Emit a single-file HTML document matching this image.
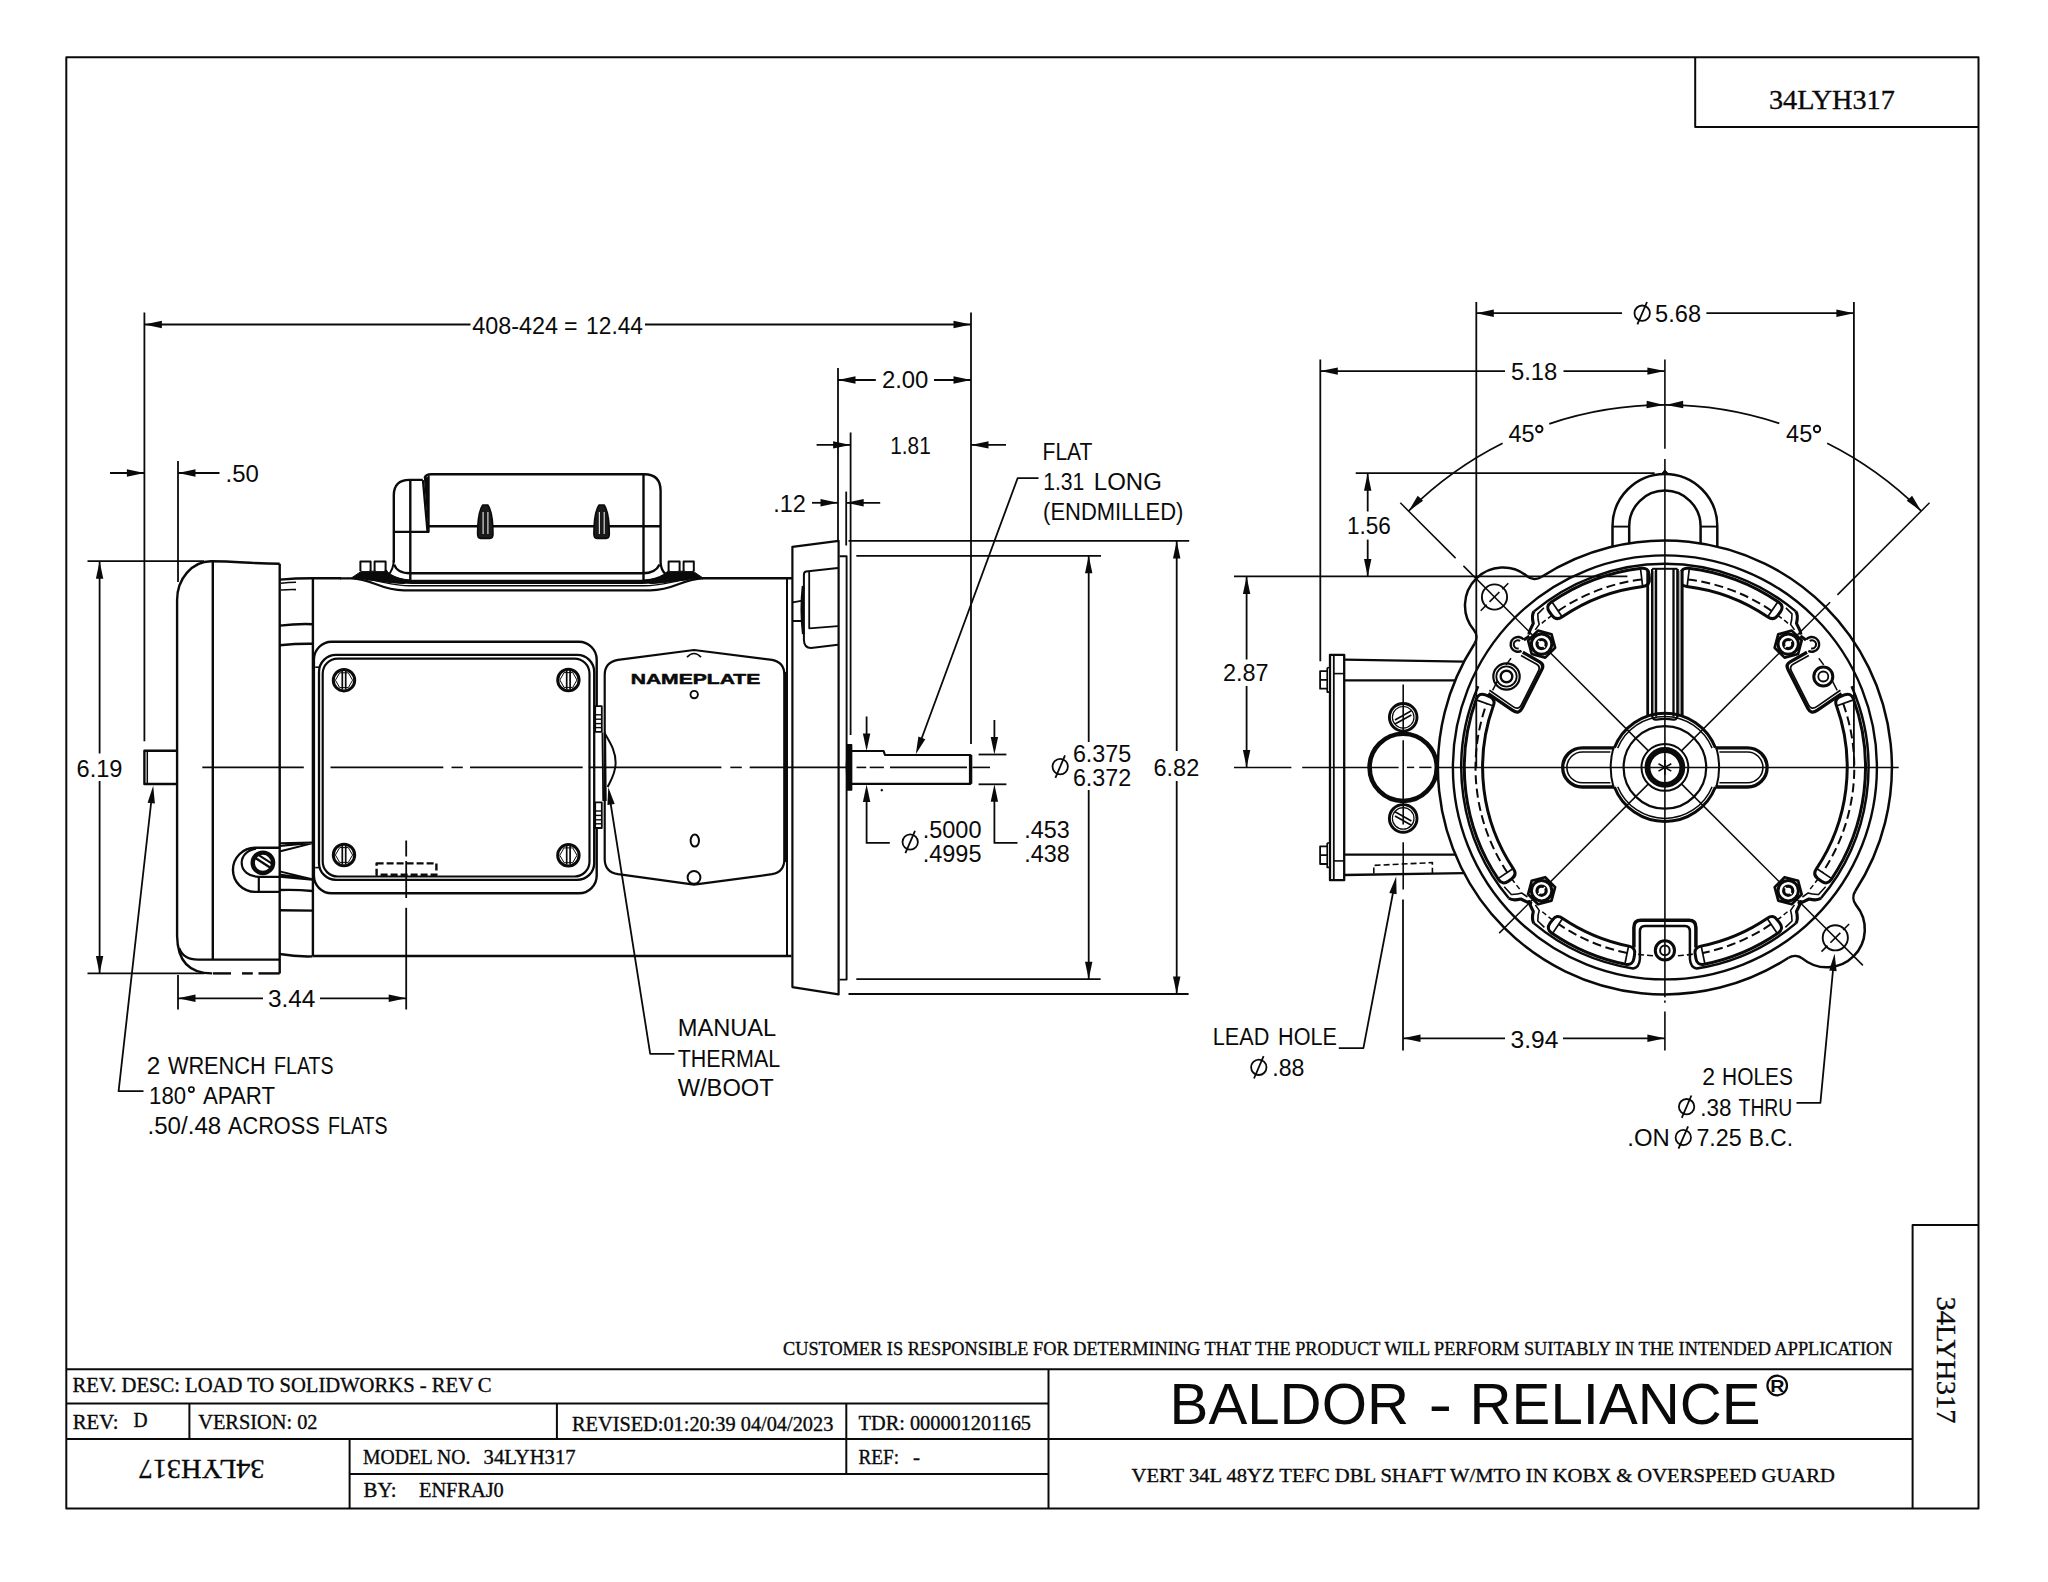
<!DOCTYPE html>
<html><head><meta charset="utf-8"><title>34LYH317</title>
<style>
html,body{margin:0;padding:0;background:#fff;}
svg{display:block;}
svg *{vector-effect:none;}
</style></head>
<body>
<svg width="2048" height="1582" viewBox="0 0 2048 1582" fill="none" stroke="#0a0a0a" stroke-linecap="butt" stroke-linejoin="round">
<rect x="0" y="0" width="2048" height="1582" fill="#ffffff" stroke="none"/>
<path d="M66.3 57.3 H1978.5 V1508.6 H66.3 Z" stroke-width="2"/>
<path d="M1695.2 57.3 V126.9 H1978.5" stroke-width="2"/>
<path d="M1912.6 1508.6 V1225.1 H1978.5" stroke-width="2"/>
<line x1="66.3" y1="1369.3" x2="1912.6" y2="1369.3" stroke-width="2"/>
<line x1="66.3" y1="1403.4" x2="1048.5" y2="1403.4" stroke-width="2"/>
<line x1="66.3" y1="1439" x2="1912.6" y2="1439" stroke-width="2"/>
<line x1="349.6" y1="1474.1" x2="1048.5" y2="1474.1" stroke-width="2"/>
<line x1="1048.5" y1="1369.3" x2="1048.5" y2="1508.6" stroke-width="2"/>
<line x1="189.4" y1="1403.4" x2="189.4" y2="1439" stroke-width="2"/>
<line x1="556.9" y1="1403.4" x2="556.9" y2="1439" stroke-width="2"/>
<line x1="846.3" y1="1403.4" x2="846.3" y2="1474.1" stroke-width="2"/>
<line x1="349.6" y1="1439" x2="349.6" y2="1508.6" stroke-width="2"/>
<text x="1769" y="109.1" font-family="'Liberation Serif', serif" font-size="27.6" textLength="125.8" lengthAdjust="spacingAndGlyphs" fill="#0a0a0a" stroke="#0a0a0a" stroke-width="0.35" xml:space="preserve">34LYH317</text>
<text x="72.6" y="1392.2" font-family="'Liberation Serif', serif" font-size="20.2" textLength="419" lengthAdjust="spacingAndGlyphs" fill="#0a0a0a" stroke="#0a0a0a" stroke-width="0.35" xml:space="preserve">REV. DESC: LOAD TO SOLIDWORKS - REV C</text>
<text x="72.8" y="1428.8" font-family="'Liberation Serif', serif" font-size="20.2" textLength="45.7" lengthAdjust="spacingAndGlyphs" fill="#0a0a0a" stroke="#0a0a0a" stroke-width="0.35" xml:space="preserve">REV:</text>
<text x="133.5" y="1427.2" font-family="'Liberation Serif', serif" font-size="20.2" textLength="14.1" lengthAdjust="spacingAndGlyphs" fill="#0a0a0a" stroke="#0a0a0a" stroke-width="0.35" xml:space="preserve">D</text>
<text x="198.2" y="1428.8" font-family="'Liberation Serif', serif" font-size="20.2" textLength="119.3" lengthAdjust="spacingAndGlyphs" fill="#0a0a0a" stroke="#0a0a0a" stroke-width="0.35" xml:space="preserve">VERSION: 02</text>
<text x="572" y="1431.2" font-family="'Liberation Serif', serif" font-size="20.2" textLength="261.3" lengthAdjust="spacingAndGlyphs" fill="#0a0a0a" stroke="#0a0a0a" stroke-width="0.35" xml:space="preserve">REVISED:01:20:39 04/04/2023</text>
<text x="858.6" y="1430.4" font-family="'Liberation Serif', serif" font-size="20.2" textLength="172.4" lengthAdjust="spacingAndGlyphs" fill="#0a0a0a" stroke="#0a0a0a" stroke-width="0.35" xml:space="preserve">TDR: 000001201165</text>
<text x="363" y="1464.4" font-family="'Liberation Serif', serif" font-size="20.2" textLength="107.3" lengthAdjust="spacingAndGlyphs" fill="#0a0a0a" stroke="#0a0a0a" stroke-width="0.35" xml:space="preserve">MODEL NO.</text>
<text x="483.6" y="1464.4" font-family="'Liberation Serif', serif" font-size="20.2" textLength="92" lengthAdjust="spacingAndGlyphs" fill="#0a0a0a" stroke="#0a0a0a" stroke-width="0.35" xml:space="preserve">34LYH317</text>
<text x="858.6" y="1463.6" font-family="'Liberation Serif', serif" font-size="20.2" textLength="40.4" lengthAdjust="spacingAndGlyphs" fill="#0a0a0a" stroke="#0a0a0a" stroke-width="0.35" xml:space="preserve">REF:</text>
<text x="913" y="1463.6" font-family="'Liberation Serif', serif" font-size="20.2" textLength="7" lengthAdjust="spacingAndGlyphs" fill="#0a0a0a" stroke="#0a0a0a" stroke-width="0.35" xml:space="preserve">-</text>
<text x="363.6" y="1496.6" font-family="'Liberation Serif', serif" font-size="20.2" textLength="32.9" lengthAdjust="spacingAndGlyphs" fill="#0a0a0a" stroke="#0a0a0a" stroke-width="0.35" xml:space="preserve">BY:</text>
<text x="419" y="1496.6" font-family="'Liberation Serif', serif" font-size="20.2" textLength="84.8" lengthAdjust="spacingAndGlyphs" fill="#0a0a0a" stroke="#0a0a0a" stroke-width="0.35" xml:space="preserve">ENFRAJ0</text>
<g transform="rotate(180 201.6 1470.1)">
<text x="138.6" y="1479.9" font-family="'Liberation Serif', serif" font-size="27.6" textLength="126" lengthAdjust="spacingAndGlyphs" fill="#0a0a0a" stroke="#0a0a0a" stroke-width="0.35" xml:space="preserve">34LYH317</text>
</g>
<g transform="translate(1936.6 1296.4) rotate(90)">
<text x="0" y="0" font-family="'Liberation Serif', serif" font-size="27.6" textLength="127" lengthAdjust="spacingAndGlyphs" fill="#0a0a0a" stroke="#0a0a0a" stroke-width="0.35" xml:space="preserve">34LYH317</text>
</g>
<text x="783" y="1355.2" font-family="'Liberation Serif', serif" font-size="19.4" textLength="1109.4" lengthAdjust="spacingAndGlyphs" fill="#0a0a0a" stroke="#0a0a0a" stroke-width="0.35" xml:space="preserve">CUSTOMER IS RESPONSIBLE FOR DETERMINING THAT THE PRODUCT WILL PERFORM SUITABLY IN THE INTENDED APPLICATION</text>
<text x="1169.6" y="1423.8" font-family="'Liberation Sans', sans-serif" font-size="57.5" textLength="239.4" lengthAdjust="spacingAndGlyphs" fill="#0a0a0a" stroke="none" xml:space="preserve">BALDOR</text>
<text x="1428.4" y="1423.8" font-family="'Liberation Sans', sans-serif" font-size="57.5" textLength="23.6" lengthAdjust="spacingAndGlyphs" fill="#0a0a0a" stroke="none" xml:space="preserve">-</text>
<text x="1469.6" y="1423.8" font-family="'Liberation Sans', sans-serif" font-size="57.5" textLength="291" lengthAdjust="spacingAndGlyphs" fill="#0a0a0a" stroke="none" xml:space="preserve">RELIANCE</text>
<circle cx="1777.2" cy="1385.5" r="9.8" stroke-width="2.2"/>
<text x="1770.3" y="1391.6" font-family="'Liberation Sans', sans-serif" font-size="16.5" textLength="14.2" lengthAdjust="spacingAndGlyphs" font-weight="bold" fill="#0a0a0a" stroke="none" xml:space="preserve">R</text>
<text x="1131.6" y="1481.6" font-family="'Liberation Serif', serif" font-size="19.4" textLength="703.2" lengthAdjust="spacingAndGlyphs" fill="#0a0a0a" stroke="#0a0a0a" stroke-width="0.35" xml:space="preserve">VERT 34L 48YZ TEFC DBL SHAFT W/MTO IN KOBX &amp; OVERSPEED GUARD</text>
<g id="leftview">
<line x1="144.4" y1="312.4" x2="144.4" y2="741.2" stroke-width="1.8"/>
<line x1="971" y1="312.4" x2="971" y2="744" stroke-width="1.8"/>
<line x1="144.4" y1="324.5" x2="470.5" y2="324.5" stroke-width="1.8"/>
<line x1="645" y1="324.5" x2="971" y2="324.5" stroke-width="1.8"/>
<polygon points="144.4,324.5 161.9,320.8 161.9,328.2" fill="#0a0a0a" stroke="none"/>
<polygon points="971,324.5 953.5,328.2 953.5,320.8" fill="#0a0a0a" stroke="none"/>
<text x="472.3" y="333.6" font-family="'Liberation Sans', sans-serif" font-size="23" textLength="85.8" lengthAdjust="spacingAndGlyphs" fill="#0a0a0a" stroke="none" xml:space="preserve">408-424</text>
<text x="564.1" y="333.6" font-family="'Liberation Sans', sans-serif" font-size="23" textLength="13.5" lengthAdjust="spacingAndGlyphs" fill="#0a0a0a" stroke="none" xml:space="preserve">=</text>
<text x="586.1" y="333.6" font-family="'Liberation Sans', sans-serif" font-size="23" textLength="56.9" lengthAdjust="spacingAndGlyphs" fill="#0a0a0a" stroke="none" xml:space="preserve">12.44</text>
<line x1="178" y1="461" x2="178" y2="582" stroke-width="1.8"/>
<line x1="110" y1="473" x2="144.4" y2="473" stroke-width="1.8"/>
<line x1="178" y1="473" x2="219.5" y2="473" stroke-width="1.8"/>
<polygon points="144.4,473 126.9,476.7 126.9,469.3" fill="#0a0a0a" stroke="none"/>
<polygon points="178,473 195.5,469.3 195.5,476.7" fill="#0a0a0a" stroke="none"/>
<text x="225.6" y="482.2" font-family="'Liberation Sans', sans-serif" font-size="23" textLength="33.3" lengthAdjust="spacingAndGlyphs" fill="#0a0a0a" stroke="none" xml:space="preserve">.50</text>
<line x1="87.5" y1="561.2" x2="204" y2="561.2" stroke-width="1.8"/>
<line x1="87.5" y1="973.4" x2="204" y2="973.4" stroke-width="1.8"/>
<line x1="99.6" y1="561.2" x2="99.6" y2="753.5" stroke-width="1.8"/>
<line x1="99.6" y1="781" x2="99.6" y2="973.4" stroke-width="1.8"/>
<polygon points="99.6,561.2 103.3,578.7 95.9,578.7" fill="#0a0a0a" stroke="none"/>
<polygon points="99.6,973.4 95.9,955.9 103.3,955.9" fill="#0a0a0a" stroke="none"/>
<text x="76.5" y="777.2" font-family="'Liberation Sans', sans-serif" font-size="23" textLength="46" lengthAdjust="spacingAndGlyphs" fill="#0a0a0a" stroke="none" xml:space="preserve">6.19</text>
<line x1="178" y1="975" x2="178" y2="1009.5" stroke-width="1.8"/>
<line x1="178" y1="998.3" x2="263" y2="998.3" stroke-width="1.8"/>
<line x1="320" y1="998.3" x2="406.2" y2="998.3" stroke-width="1.8"/>
<polygon points="178,998.3 195.5,994.6 195.5,1002" fill="#0a0a0a" stroke="none"/>
<polygon points="406.2,998.3 388.7,1002 388.7,994.6" fill="#0a0a0a" stroke="none"/>
<text x="267.9" y="1006.8" font-family="'Liberation Sans', sans-serif" font-size="23" textLength="47.5" lengthAdjust="spacingAndGlyphs" fill="#0a0a0a" stroke="none" xml:space="preserve">3.44</text>
<line x1="406.2" y1="840.5" x2="406.2" y2="856.5" stroke-width="1.8"/>
<line x1="406.2" y1="861" x2="406.2" y2="898" stroke-width="1.8"/>
<line x1="406.2" y1="907.8" x2="406.2" y2="1009.5" stroke-width="1.8"/>
<polygon points="153.2,785.8 154.9,803.6 147.6,802.8" fill="#0a0a0a" stroke="none"/>
<path d="M152.0 795 L118.6 1091.2 H143.5" stroke-width="1.8"/>
<text x="146.8" y="1073.7" font-family="'Liberation Sans', sans-serif" font-size="23" textLength="13.5" lengthAdjust="spacingAndGlyphs" fill="#0a0a0a" stroke="none" xml:space="preserve">2</text>
<text x="167.9" y="1073.7" font-family="'Liberation Sans', sans-serif" font-size="23" textLength="97.8" lengthAdjust="spacingAndGlyphs" fill="#0a0a0a" stroke="none" xml:space="preserve">WRENCH</text>
<text x="274.1" y="1073.7" font-family="'Liberation Sans', sans-serif" font-size="23" textLength="59.6" lengthAdjust="spacingAndGlyphs" fill="#0a0a0a" stroke="none" xml:space="preserve">FLATS</text>
<text x="149.1" y="1103.8" font-family="'Liberation Sans', sans-serif" font-size="23" textLength="37" lengthAdjust="spacingAndGlyphs" fill="#0a0a0a" stroke="none" xml:space="preserve">180</text>
<text x="203" y="1103.8" font-family="'Liberation Sans', sans-serif" font-size="23" textLength="72.1" lengthAdjust="spacingAndGlyphs" fill="#0a0a0a" stroke="none" xml:space="preserve">APART</text>
<circle cx="191.4" cy="1089.6" r="2.6" stroke-width="1.7"/>
<text x="147.5" y="1134.4" font-family="'Liberation Sans', sans-serif" font-size="23" textLength="73.7" lengthAdjust="spacingAndGlyphs" fill="#0a0a0a" stroke="none" xml:space="preserve">.50/.48</text>
<text x="228" y="1134.4" font-family="'Liberation Sans', sans-serif" font-size="23" textLength="91.7" lengthAdjust="spacingAndGlyphs" fill="#0a0a0a" stroke="none" xml:space="preserve">ACROSS</text>
<text x="328" y="1134.4" font-family="'Liberation Sans', sans-serif" font-size="23" textLength="59.6" lengthAdjust="spacingAndGlyphs" fill="#0a0a0a" stroke="none" xml:space="preserve">FLATS</text>
<polygon points="608.3,787.2 614.7,803.9 607.4,805.1" fill="#0a0a0a" stroke="none"/>
<path d="M609.6 797 L650.2 1053.8 H674.4" stroke-width="1.8"/>
<text x="677.7" y="1036.2" font-family="'Liberation Sans', sans-serif" font-size="23" textLength="98.6" lengthAdjust="spacingAndGlyphs" fill="#0a0a0a" stroke="none" xml:space="preserve">MANUAL</text>
<text x="677.7" y="1066.5" font-family="'Liberation Sans', sans-serif" font-size="23" textLength="102.5" lengthAdjust="spacingAndGlyphs" fill="#0a0a0a" stroke="none" xml:space="preserve">THERMAL</text>
<text x="677.7" y="1095.8" font-family="'Liberation Sans', sans-serif" font-size="23" textLength="96" lengthAdjust="spacingAndGlyphs" fill="#0a0a0a" stroke="none" xml:space="preserve">W/BOOT</text>
<line x1="838" y1="368" x2="838" y2="540.5" stroke-width="1.8"/>
<line x1="838" y1="380" x2="875.8" y2="380" stroke-width="1.8"/>
<line x1="934" y1="380" x2="971" y2="380" stroke-width="1.8"/>
<polygon points="838,380 855.5,376.3 855.5,383.7" fill="#0a0a0a" stroke="none"/>
<polygon points="971,380 953.5,383.7 953.5,376.3" fill="#0a0a0a" stroke="none"/>
<text x="881.9" y="388.4" font-family="'Liberation Sans', sans-serif" font-size="23" textLength="46.5" lengthAdjust="spacingAndGlyphs" fill="#0a0a0a" stroke="none" xml:space="preserve">2.00</text>
<line x1="850.6" y1="432.5" x2="850.6" y2="735" stroke-width="1.8"/>
<line x1="816.6" y1="444.9" x2="850.6" y2="444.9" stroke-width="1.8"/>
<line x1="971" y1="444.9" x2="1006" y2="444.9" stroke-width="1.8"/>
<polygon points="850.6,444.9 833.1,448.6 833.1,441.2" fill="#0a0a0a" stroke="none"/>
<polygon points="971,444.9 988.5,441.2 988.5,448.6" fill="#0a0a0a" stroke="none"/>
<text x="890.3" y="454.2" font-family="'Liberation Sans', sans-serif" font-size="23" textLength="40.4" lengthAdjust="spacingAndGlyphs" fill="#0a0a0a" stroke="none" xml:space="preserve">1.81</text>
<line x1="846.2" y1="491.6" x2="846.2" y2="545.5" stroke-width="1.8"/>
<line x1="812" y1="502.8" x2="838" y2="502.8" stroke-width="1.8"/>
<line x1="846.2" y1="502.8" x2="880.2" y2="502.8" stroke-width="1.8"/>
<polygon points="838,502.8 820.5,506.5 820.5,499.1" fill="#0a0a0a" stroke="none"/>
<polygon points="846.2,502.8 863.7,499.1 863.7,506.5" fill="#0a0a0a" stroke="none"/>
<text x="773.3" y="511.9" font-family="'Liberation Sans', sans-serif" font-size="23" textLength="32.6" lengthAdjust="spacingAndGlyphs" fill="#0a0a0a" stroke="none" xml:space="preserve">.12</text>
<text x="1042.6" y="459.8" font-family="'Liberation Sans', sans-serif" font-size="23" textLength="49.8" lengthAdjust="spacingAndGlyphs" fill="#0a0a0a" stroke="none" xml:space="preserve">FLAT</text>
<text x="1043.2" y="490.1" font-family="'Liberation Sans', sans-serif" font-size="23" textLength="41.2" lengthAdjust="spacingAndGlyphs" fill="#0a0a0a" stroke="none" xml:space="preserve">1.31</text>
<text x="1093.8" y="490.1" font-family="'Liberation Sans', sans-serif" font-size="23" textLength="68" lengthAdjust="spacingAndGlyphs" fill="#0a0a0a" stroke="none" xml:space="preserve">LONG</text>
<text x="1043.1" y="520.4" font-family="'Liberation Sans', sans-serif" font-size="23" textLength="140.3" lengthAdjust="spacingAndGlyphs" fill="#0a0a0a" stroke="none" xml:space="preserve">(ENDMILLED)</text>
<polygon points="915.8,754.3 918.4,736.6 925.3,739.2" fill="#0a0a0a" stroke="none"/>
<path d="M919.2 745 L1017.6 478.2 H1038.5" stroke-width="1.8"/>
<line x1="856.3" y1="555.8" x2="1101" y2="555.8" stroke-width="1.8"/>
<line x1="856.3" y1="979.2" x2="1100.6" y2="979.2" stroke-width="1.8"/>
<line x1="1088.7" y1="555.8" x2="1088.7" y2="742" stroke-width="1.8"/>
<line x1="1088.7" y1="790" x2="1088.7" y2="979.2" stroke-width="1.8"/>
<polygon points="1088.7,555.8 1092.4,573.3 1085,573.3" fill="#0a0a0a" stroke="none"/>
<polygon points="1088.7,979.2 1085,961.7 1092.4,961.7" fill="#0a0a0a" stroke="none"/>
<circle cx="1060.2" cy="766.6" r="7.7" stroke-width="1.8"/>
<line x1="1055.4" y1="777.8" x2="1065" y2="755.4" stroke-width="1.8"/>
<text x="1072.9" y="761.8" font-family="'Liberation Sans', sans-serif" font-size="23" textLength="58.4" lengthAdjust="spacingAndGlyphs" fill="#0a0a0a" stroke="none" xml:space="preserve">6.375</text>
<text x="1072.9" y="785.6" font-family="'Liberation Sans', sans-serif" font-size="23" textLength="58.4" lengthAdjust="spacingAndGlyphs" fill="#0a0a0a" stroke="none" xml:space="preserve">6.372</text>
<line x1="848.5" y1="540.9" x2="1189.2" y2="540.9" stroke-width="1.8"/>
<line x1="848.5" y1="994" x2="1188.6" y2="994" stroke-width="1.8"/>
<line x1="1176.7" y1="540.9" x2="1176.7" y2="751" stroke-width="1.8"/>
<line x1="1176.7" y1="781" x2="1176.7" y2="994" stroke-width="1.8"/>
<polygon points="1176.7,540.9 1180.4,558.4 1173,558.4" fill="#0a0a0a" stroke="none"/>
<polygon points="1176.7,994 1173,976.5 1180.4,976.5" fill="#0a0a0a" stroke="none"/>
<text x="1153.5" y="776" font-family="'Liberation Sans', sans-serif" font-size="23" textLength="45.8" lengthAdjust="spacingAndGlyphs" fill="#0a0a0a" stroke="none" xml:space="preserve">6.82</text>
<line x1="866.6" y1="716.5" x2="866.6" y2="740" stroke-width="1.8"/>
<polygon points="866.6,751 862.9,733.5 870.3,733.5" fill="#0a0a0a" stroke="none"/>
<polygon points="866.6,784.6 870.3,802.1 862.9,802.1" fill="#0a0a0a" stroke="none"/>
<path d="M866.6 800 V842.9 H889.8" stroke-width="1.8"/>
<circle cx="910.2" cy="842" r="7.7" stroke-width="1.8"/>
<line x1="905.4" y1="853.2" x2="915" y2="830.8" stroke-width="1.8"/>
<text x="922.7" y="837.6" font-family="'Liberation Sans', sans-serif" font-size="23" textLength="58.8" lengthAdjust="spacingAndGlyphs" fill="#0a0a0a" stroke="none" xml:space="preserve">.5000</text>
<text x="922.7" y="861.8" font-family="'Liberation Sans', sans-serif" font-size="23" textLength="58.8" lengthAdjust="spacingAndGlyphs" fill="#0a0a0a" stroke="none" xml:space="preserve">.4995</text>
<line x1="978.6" y1="754.5" x2="1006.4" y2="754.5" stroke-width="1.8"/>
<line x1="978.6" y1="784.3" x2="1006.4" y2="784.3" stroke-width="1.8"/>
<line x1="994.4" y1="720" x2="994.4" y2="740" stroke-width="1.8"/>
<polygon points="994.4,754.5 990.7,737 998.1,737" fill="#0a0a0a" stroke="none"/>
<polygon points="994.4,784.3 998.1,801.8 990.7,801.8" fill="#0a0a0a" stroke="none"/>
<path d="M994.4 800 V842.9 H1017.5" stroke-width="1.8"/>
<text x="1024.3" y="837.6" font-family="'Liberation Sans', sans-serif" font-size="23" textLength="45.4" lengthAdjust="spacingAndGlyphs" fill="#0a0a0a" stroke="none" xml:space="preserve">.453</text>
<text x="1024.3" y="861.8" font-family="'Liberation Sans', sans-serif" font-size="23" textLength="45.4" lengthAdjust="spacingAndGlyphs" fill="#0a0a0a" stroke="none" xml:space="preserve">.438</text>
<line x1="202.3" y1="767.4" x2="303.8" y2="767.4" stroke-width="1.6"/>
<line x1="330.5" y1="767.4" x2="443.3" y2="767.4" stroke-width="1.6"/>
<line x1="451.5" y1="767.4" x2="462.8" y2="767.4" stroke-width="1.6"/>
<line x1="470" y1="767.4" x2="582.7" y2="767.4" stroke-width="1.6"/>
<line x1="588.7" y1="767.4" x2="721.4" y2="767.4" stroke-width="1.6"/>
<line x1="730.3" y1="767.4" x2="741.8" y2="767.4" stroke-width="1.6"/>
<line x1="749.7" y1="767.4" x2="852" y2="767.4" stroke-width="1.6"/>
<line x1="856.5" y1="767.4" x2="866.2" y2="767.4" stroke-width="1.6"/>
<line x1="869.7" y1="767.4" x2="883.9" y2="767.4" stroke-width="1.6"/>
<line x1="890" y1="767.4" x2="967" y2="767.4" stroke-width="1.6"/>
<line x1="972.4" y1="767.4" x2="990" y2="767.4" stroke-width="1.6"/>
<path d="M279.7 563.8 C250 563.6 238 561.2 211 561.2 A34 38.8 0 0 0 177.1 600 V936 Q177.6 973.4 212 973.4" stroke-width="2.4"/>
<path d="M179.2 948 Q183 959.6 198 959.6 H279.7" stroke-width="2.4"/>
<line x1="212.8" y1="973.4" x2="231" y2="973.4" stroke-width="2.4"/>
<line x1="242" y1="973.4" x2="252.8" y2="973.4" stroke-width="2.4"/>
<line x1="258.5" y1="973.4" x2="279.7" y2="973.4" stroke-width="2.4"/>
<line x1="212.8" y1="561.2" x2="212.8" y2="959.6" stroke-width="2.4"/>
<line x1="279.7" y1="563.8" x2="279.7" y2="973.4" stroke-width="2.4"/>
<path d="M177.1 750.8 H144.4 V784.0 H177.1" stroke-width="2.4"/>
<line x1="147.3" y1="750.8" x2="147.3" y2="784" stroke-width="1.5"/>
<path d="M279.7 579.6 Q296 578.2 312 578.2 H341" stroke-width="2.4"/>
<path d="M281 583.2 Q289 582.4 296 582.2" stroke-width="1.6"/>
<path d="M281 590.0 Q289 589.4 296 589.6" stroke-width="1.6"/>
<path d="M279.7 625.6 Q297 623.6 312.6 624.2" stroke-width="2.4"/>
<path d="M279.7 645.2 Q297 643.6 312.6 643.8" stroke-width="2.4"/>
<path d="M279.7 954.0 Q296 956.9 312.6 956.4" stroke-width="2.4"/>
<line x1="279.7" y1="910.3" x2="312.6" y2="910.6" stroke-width="2.4"/>
<path d="M279.7 890.0 Q296 889.4 312.6 891.0" stroke-width="2.4"/>
<line x1="312.9" y1="578.2" x2="312.9" y2="956.2" stroke-width="2.4"/>
<line x1="312.9" y1="956" x2="791.5" y2="956" stroke-width="2.4"/>
<line x1="702" y1="578.3" x2="792" y2="578.3" stroke-width="2.4"/>
<line x1="787" y1="578.4" x2="787" y2="956.4" stroke-width="2"/>
<path d="M279.5 847.8 H255 A22 22 0 0 0 255 891.9 H279.5" stroke-width="2.4"/>
<path d="M256 848.6 C247 850 241.6 856 241.7 863 C241.8 871 249 876.8 258.5 876.8 H279.5" stroke-width="2.2"/>
<line x1="258.8" y1="876.8" x2="258.8" y2="891.9" stroke-width="2.2"/>
<circle cx="262.9" cy="862.8" r="10.2" stroke-width="4.4"/>
<line x1="255.4" y1="858" x2="270" y2="867.4" stroke-width="2.4"/>
<line x1="257.6" y1="854.4" x2="271.6" y2="863.4" stroke-width="2"/>
<path d="M279.7 843.3 L312.4 842.6 M279.7 846.1 L312 843.0 M280.4 851.2 L312 843.4" stroke-width="2"/>
<path d="M279.7 871.4 L312 879.2 M279.7 874.4 L312 879.5 M279.7 876.8 L312.4 879.8" stroke-width="2"/>
<line x1="315.2" y1="667.2" x2="319.6" y2="667.2" stroke-width="1.6"/>
<line x1="315.2" y1="867.6" x2="319.6" y2="867.6" stroke-width="1.6"/>
<path d="M596.7 706.2 V659.6 A17.8 17.8 0 0 0 578.9 641.8 H331.7 A17.8 17.8 0 0 0 313.9 659.6 V875.5 A17.8 17.8 0 0 0 331.7 893.3 H578.9 A17.8 17.8 0 0 0 596.7 875.5 V828.4" stroke-width="2.4"/>
<rect x="319" y="654.9" width="275.2" height="225" rx="17" stroke-width="2.3"/>
<rect x="322.7" y="658.6" width="266.8" height="217.9" rx="15" stroke-width="2.2"/>
<circle cx="344" cy="680.2" r="10.7" stroke-width="3"/>
<path d="M352.6 680.2 L348.3 687.6 L339.7 687.6 L335.4 680.2 L339.7 672.8 L348.3 672.8 Z" stroke-width="1"/>
<line x1="342.3" y1="671" x2="342.3" y2="689.4" stroke-width="1.7"/>
<line x1="345.7" y1="671" x2="345.7" y2="689.4" stroke-width="1.7"/>
<circle cx="568.4" cy="680" r="10.7" stroke-width="3"/>
<path d="M577 680 L572.7 687.4 L564.1 687.4 L559.8 680 L564.1 672.6 L572.7 672.6 Z" stroke-width="1"/>
<line x1="566.7" y1="670.8" x2="566.7" y2="689.2" stroke-width="1.7"/>
<line x1="570.1" y1="670.8" x2="570.1" y2="689.2" stroke-width="1.7"/>
<circle cx="344" cy="855" r="10.7" stroke-width="3"/>
<path d="M352.6 855 L348.3 862.4 L339.7 862.4 L335.4 855 L339.7 847.6 L348.3 847.6 Z" stroke-width="1"/>
<line x1="342.3" y1="845.8" x2="342.3" y2="864.2" stroke-width="1.7"/>
<line x1="345.7" y1="845.8" x2="345.7" y2="864.2" stroke-width="1.7"/>
<circle cx="568.4" cy="855.3" r="10.7" stroke-width="3"/>
<path d="M577 855.3 L572.7 862.7 L564.1 862.7 L559.8 855.3 L564.1 847.9 L572.7 847.9 Z" stroke-width="1"/>
<line x1="566.7" y1="846.1" x2="566.7" y2="864.5" stroke-width="1.7"/>
<line x1="570.1" y1="846.1" x2="570.1" y2="864.5" stroke-width="1.7"/>
<path d="M376.6 863.4 H436.4 V874.8 H376.6 Z" stroke-width="2.4" stroke-dasharray="7 3"/>
<path d="M595.2 706.2 H601.8 V731.8 H595.2 Z" stroke-width="1.8"/>
<line x1="596" y1="714.8" x2="601.8" y2="714.8" stroke-width="1.4"/>
<line x1="596" y1="719.2" x2="601.8" y2="719.2" stroke-width="1.4"/>
<line x1="596" y1="723.6" x2="601.8" y2="723.6" stroke-width="1.4"/>
<line x1="596" y1="727.6" x2="601.8" y2="727.6" stroke-width="1.4"/>
<path d="M595.2 802.4 H601.8 V828 H595.2 Z" stroke-width="1.8"/>
<line x1="596" y1="811" x2="601.8" y2="811" stroke-width="1.4"/>
<line x1="596" y1="815.4" x2="601.8" y2="815.4" stroke-width="1.4"/>
<line x1="596" y1="819.8" x2="601.8" y2="819.8" stroke-width="1.4"/>
<line x1="596" y1="823.8" x2="601.8" y2="823.8" stroke-width="1.4"/>
<path d="M602.4 732.6 L603.2 801.0 M605.2 732.6 L605.8 801.0" stroke-width="1.8"/>
<path d="M605.4 734.5 C611 744 616 752 615.6 764 C615.2 774 611 780 607.6 787" stroke-width="2"/>
<path d="M694 650 L772 659.8 Q784.4 662 784.4 675 V859 Q784.4 872 772 874.2 L694 884.6 L618 874.2 Q604.7 872 604.7 859 V675 Q604.7 662 618 659.8 Z" stroke-width="2.2"/>
<line x1="784.9" y1="672" x2="784.9" y2="862" stroke-width="2.6"/>
<path d="M687 657.2 Q694 649.8 701 657.2" stroke-width="1.7"/>
<text x="630.7" y="683.5" font-family="'Liberation Sans', sans-serif" font-size="14.8" textLength="129.6" lengthAdjust="spacingAndGlyphs" font-weight="bold" fill="#0a0a0a" xml:space="preserve" stroke="#0a0a0a" stroke-width="0.5">NAMEPLATE</text>
<circle cx="694.2" cy="694.6" r="3.7" stroke-width="1.9"/>
<ellipse cx="694.8" cy="840.6" rx="4.2" ry="6" stroke-width="2"/>
<circle cx="694" cy="877.4" r="6.4" stroke-width="2"/>
<path d="M429.0 531.9 H393.8 M393.8 562.6 V495.5 Q393.8 479.9 409.6 479.9 H422.8" stroke-width="2.4"/>
<path d="M393.8 560 C393.6 567 391.6 571.6 388.0 575.2 L386.0 570.2" stroke-width="2"/>
<line x1="410.3" y1="480" x2="410.3" y2="582.6" stroke-width="2.4"/>
<path d="M423.0 480.2 L427.6 531.8 M424.6 478.0 Q425.4 474.4 431.6 474.3 H644.4 Q660.6 474.4 660.6 491 V562.5 C660.8 568 662.4 571.4 666.0 574.6" stroke-width="2.4"/>
<path d="M424.6 478.0 L429.0 531.9 L429.0 476" stroke-width="1.4" fill="#0a0a0a"/>
<line x1="429" y1="526.3" x2="660.6" y2="526.3" stroke-width="2.4"/>
<line x1="643.5" y1="474.4" x2="643.5" y2="581" stroke-width="2.4"/>
<path d="M394.2 564.5 C396 570 402 573.3 410.3 573.3 H642.8 C651 573.3 657 570 659.6 564.5" stroke-width="2.4"/>
<path d="M482.8 505 C479.3 510 477.6 522 477.6 534 Q477.6 538.4 480.8 538.4 H489.8 Q493 538.4 493 534 C493 522 491.3 510 487.8 505 Z" stroke-width="1.6" fill="#1a1a1a"/>
<path d="M483.1 512 V534 M487.9 512 V534" stroke="#d8d8d8" stroke-width="1.2"/>
<path d="M599.1 505 C595.6 510 593.9 522 593.9 534 Q593.9 538.4 597.1 538.4 H606.1 Q609.3 538.4 609.3 534 C609.3 522 607.6 510 604.1 505 Z" stroke-width="1.6" fill="#1a1a1a"/>
<path d="M599.4 512 V534 M604.2 512 V534" stroke="#d8d8d8" stroke-width="1.2"/>
<path d="M340 578.4 H351.5 C372 578.6 380 590.3 404 590.3 H650.4 C674.4 590.3 682.4 578.6 702.9 578.3" stroke-width="2.2"/>
<path d="M366 579.4 C382 581 392 585.8 410 585.8 H644.4 C662.4 585.8 672.4 581 688.4 579.4" stroke-width="1.4"/>
<path d="M372 577.6 C388 579 396 581.9 412 581.9 H642.4 C658.4 581.9 666.4 579 682.4 577.6" stroke-width="4.2"/>
<path d="M351.5 577.9 L361.5 571.2 H386.5 L391 574.6 C396 577.6 402 579.4 410 580.0 L404 583.6 C386 583 370 579 351.5 577.9 Z" stroke-width="1" fill="#0a0a0a"/>
<path d="M702.9 577.9 L692.9 571.2 H667.9 L663.4 574.6 C658.4 577.6 652.4 579.4 644.4 580.0 L650.4 583.6 C668.4 583 684.4 579 702.9 577.9 Z" stroke-width="1" fill="#0a0a0a"/>
<path d="M360.4 571.2 V561.6 H370.6 V571.2" stroke-width="2"/>
<rect x="362" y="563.4" width="7" height="7.6" fill="#ffffff" stroke="none"/>
<path d="M374.6 571.2 V561.6 H385.6 V571.2" stroke-width="2"/>
<rect x="376.2" y="563.4" width="7.8" height="7.6" fill="#ffffff" stroke="none"/>
<path d="M668.6 571.2 V561.6 H679.6 V571.2" stroke-width="2"/>
<rect x="670.2" y="563.4" width="7.8" height="7.6" fill="#ffffff" stroke="none"/>
<path d="M683.6 571.2 V561.6 H693.8 V571.2" stroke-width="2"/>
<rect x="685.2" y="563.4" width="7" height="7.6" fill="#ffffff" stroke="none"/>
<path d="M792.4 987.1 V546.8 L838.6 540.9 V994.4 Z" stroke-width="2.2"/>
<path d="M839.6 556.3 H846.6 V979.6 H839.6" stroke-width="1.9"/>
<path d="M837.9 568.1 L806 571.6 Q803.9 572 803.9 575 V640 Q804.2 648 811 648.0 L837.9 644.8" stroke-width="2"/>
<path d="M809.2 572.0 V628.3 L837.9 626.2" stroke-width="1.8"/>
<path d="M803.2 586 Q800.6 610 803.4 634" stroke-width="3"/>
<path d="M792.8 602.4 L802.4 600.6 M792.8 621.0 H802.4" stroke-width="1.8"/>
<path d="M847.4 744.8 H851.6 V790.0 H847.4 Z" stroke-width="1.5" fill="#0a0a0a"/>
<path d="M848.4 748 Q845.6 767.4 848.4 787" stroke-width="2.6"/>
<path d="M852 751.0 H883.6 L885.0 755.0 H970.4 V783.8 H852" stroke-width="2.2"/>
<line x1="970.6" y1="755" x2="970.6" y2="783.8" stroke-width="3.4"/>
<circle cx="881.8" cy="790.2" r="0.9" stroke-width="0.8" fill="#0a0a0a"/>
</g>
<g id="rightview">
<line x1="1476.3" y1="302" x2="1476.3" y2="767.4" stroke-width="1.8"/>
<line x1="1853.9" y1="302" x2="1853.9" y2="767.4" stroke-width="1.8"/>
<line x1="1476.3" y1="313.2" x2="1622" y2="313.2" stroke-width="1.8"/>
<line x1="1706.4" y1="313.2" x2="1853.9" y2="313.2" stroke-width="1.8"/>
<polygon points="1476.3,313.2 1493.8,309.5 1493.8,316.9" fill="#0a0a0a" stroke="none"/>
<polygon points="1853.9,313.2 1836.4,316.9 1836.4,309.5" fill="#0a0a0a" stroke="none"/>
<circle cx="1642.2" cy="313.2" r="7.7" stroke-width="1.8"/>
<line x1="1637.4" y1="324.4" x2="1647" y2="302" stroke-width="1.8"/>
<text x="1655.1" y="322" font-family="'Liberation Sans', sans-serif" font-size="23" textLength="46" lengthAdjust="spacingAndGlyphs" fill="#0a0a0a" stroke="none" xml:space="preserve">5.68</text>
<line x1="1320.3" y1="359.6" x2="1320.3" y2="661.2" stroke-width="1.8"/>
<line x1="1320.3" y1="371.1" x2="1505" y2="371.1" stroke-width="1.8"/>
<line x1="1563.5" y1="371.1" x2="1664.9" y2="371.1" stroke-width="1.8"/>
<polygon points="1320.3,371.1 1337.8,367.4 1337.8,374.8" fill="#0a0a0a" stroke="none"/>
<polygon points="1664.9,371.1 1647.4,374.8 1647.4,367.4" fill="#0a0a0a" stroke="none"/>
<text x="1510.9" y="379.8" font-family="'Liberation Sans', sans-serif" font-size="23" textLength="46.4" lengthAdjust="spacingAndGlyphs" fill="#0a0a0a" stroke="none" xml:space="preserve">5.18</text>
<line x1="1664.9" y1="359.6" x2="1664.9" y2="448.7" stroke-width="1.6"/>
<line x1="1664.9" y1="458.9" x2="1664.9" y2="997.2" stroke-width="1.6"/>
<line x1="1664.9" y1="1000.6" x2="1664.9" y2="1002.8" stroke-width="1.6"/>
<line x1="1664.9" y1="1011.6" x2="1664.9" y2="1050.6" stroke-width="1.6"/>
<line x1="1234" y1="767.4" x2="1291.4" y2="767.4" stroke-width="1.5"/>
<line x1="1302.2" y1="767.4" x2="1398.6" y2="767.4" stroke-width="1.5"/>
<line x1="1406.9" y1="767.4" x2="1414.2" y2="767.4" stroke-width="1.5"/>
<line x1="1419.2" y1="767.4" x2="1431.5" y2="767.4" stroke-width="1.5"/>
<line x1="1437.3" y1="767.4" x2="1898.7" y2="767.4" stroke-width="1.5"/>
<path d="M1408.6 511.1 A362.5 362.5 0 0 1 1502.6 443.3" stroke-width="1.8"/>
<path d="M1549.3 423.8 A362.5 362.5 0 0 1 1664.9 404.9" stroke-width="1.8"/>
<path d="M1664.9 404.9 A362.5 362.5 0 0 1 1779.3 423.4" stroke-width="1.8"/>
<path d="M1827.2 443.3 A362.5 362.5 0 0 1 1921.2 511.1" stroke-width="1.8"/>
<polygon points="1408.6,511.1 1417.7,495.7 1423.1,500.7" fill="#0a0a0a" stroke="none"/>
<polygon points="1921.2,511.1 1906.7,500.7 1912.1,495.7" fill="#0a0a0a" stroke="none"/>
<polygon points="1664.1,404.9 1646.5,408.2 1646.7,400.8" fill="#0a0a0a" stroke="none"/>
<polygon points="1665.7,404.9 1683.1,400.8 1683.3,408.2" fill="#0a0a0a" stroke="none"/>
<text x="1508.4" y="442.2" font-family="'Liberation Sans', sans-serif" font-size="23" textLength="26.1" lengthAdjust="spacingAndGlyphs" fill="#0a0a0a" stroke="none" xml:space="preserve">45</text>
<circle cx="1539.3" cy="429" r="3.2" stroke-width="1.9"/>
<text x="1786.1" y="442.2" font-family="'Liberation Sans', sans-serif" font-size="23" textLength="26.1" lengthAdjust="spacingAndGlyphs" fill="#0a0a0a" stroke="none" xml:space="preserve">45</text>
<circle cx="1817" cy="429" r="3.2" stroke-width="1.9"/>
<line x1="1400.3" y1="502.8" x2="1455.6" y2="558.1" stroke-width="1.5"/>
<line x1="1463.4" y1="565.9" x2="1648.4" y2="750.9" stroke-width="1.5"/>
<line x1="1929.5" y1="502.8" x2="1837.4" y2="594.9" stroke-width="1.5"/>
<line x1="1830.1" y1="602.2" x2="1681.4" y2="750.9" stroke-width="1.5"/>
<line x1="1499.2" y1="933.1" x2="1648.4" y2="783.9" stroke-width="1.5"/>
<line x1="1862.9" y1="965.4" x2="1681.4" y2="783.9" stroke-width="1.5"/>
<line x1="1355.7" y1="473.2" x2="1654.6" y2="473.2" stroke-width="1.8"/>
<line x1="1367.7" y1="473.2" x2="1367.7" y2="511.5" stroke-width="1.8"/>
<line x1="1367.7" y1="539.6" x2="1367.7" y2="576.4" stroke-width="1.8"/>
<polygon points="1367.7,473.2 1371.4,490.7 1364,490.7" fill="#0a0a0a" stroke="none"/>
<polygon points="1367.7,576.4 1364,558.9 1371.4,558.9" fill="#0a0a0a" stroke="none"/>
<text x="1346.9" y="533.6" font-family="'Liberation Sans', sans-serif" font-size="23" textLength="44" lengthAdjust="spacingAndGlyphs" fill="#0a0a0a" stroke="none" xml:space="preserve">1.56</text>
<path d="M1664.9 469.8 l3.2 3.8 h-6.4 z" stroke-width="1" fill="#0a0a0a"/>
<line x1="1234" y1="576.4" x2="1627.4" y2="576.4" stroke-width="1.8"/>
<line x1="1246.6" y1="576.4" x2="1246.6" y2="659.5" stroke-width="1.8"/>
<line x1="1246.6" y1="686" x2="1246.6" y2="767.4" stroke-width="1.8"/>
<polygon points="1246.6,576.4 1250.3,593.9 1242.9,593.9" fill="#0a0a0a" stroke="none"/>
<polygon points="1246.6,767.4 1242.9,749.9 1250.3,749.9" fill="#0a0a0a" stroke="none"/>
<text x="1222.9" y="681.2" font-family="'Liberation Sans', sans-serif" font-size="23" textLength="45.6" lengthAdjust="spacingAndGlyphs" fill="#0a0a0a" stroke="none" xml:space="preserve">2.87</text>
<line x1="1403" y1="899.5" x2="1403" y2="1050.6" stroke-width="1.8"/>
<line x1="1403.2" y1="842.2" x2="1403.2" y2="889.6" stroke-width="1.6"/>
<line x1="1403.2" y1="684.4" x2="1403.2" y2="732.6" stroke-width="1.6"/>
<line x1="1403.2" y1="740.3" x2="1403.2" y2="824.4" stroke-width="1.6"/>
<line x1="1403" y1="1038.3" x2="1505" y2="1038.3" stroke-width="1.8"/>
<line x1="1563" y1="1038.3" x2="1664.9" y2="1038.3" stroke-width="1.8"/>
<polygon points="1403,1038.3 1420.5,1034.6 1420.5,1042" fill="#0a0a0a" stroke="none"/>
<polygon points="1664.9,1038.3 1647.4,1042 1647.4,1034.6" fill="#0a0a0a" stroke="none"/>
<text x="1510.5" y="1048" font-family="'Liberation Sans', sans-serif" font-size="23" textLength="47.8" lengthAdjust="spacingAndGlyphs" fill="#0a0a0a" stroke="none" xml:space="preserve">3.94</text>
<text x="1212.8" y="1044.9" font-family="'Liberation Sans', sans-serif" font-size="23" textLength="56.5" lengthAdjust="spacingAndGlyphs" fill="#0a0a0a" stroke="none" xml:space="preserve">LEAD</text>
<text x="1278.1" y="1044.9" font-family="'Liberation Sans', sans-serif" font-size="23" textLength="58.8" lengthAdjust="spacingAndGlyphs" fill="#0a0a0a" stroke="none" xml:space="preserve">HOLE</text>
<circle cx="1258.8" cy="1067.3" r="7.7" stroke-width="1.8"/>
<line x1="1254" y1="1078.5" x2="1263.6" y2="1056.1" stroke-width="1.8"/>
<text x="1272.3" y="1076.4" font-family="'Liberation Sans', sans-serif" font-size="23" textLength="32.2" lengthAdjust="spacingAndGlyphs" fill="#0a0a0a" stroke="none" xml:space="preserve">.88</text>
<polygon points="1396.2,876.4 1396.6,894.3 1389.3,892.9" fill="#0a0a0a" stroke="none"/>
<path d="M1394.3 886 L1363.4 1048.1 H1338.8" stroke-width="1.8"/>
<text x="1702.3" y="1084.9" font-family="'Liberation Sans', sans-serif" font-size="23" textLength="12.8" lengthAdjust="spacingAndGlyphs" fill="#0a0a0a" stroke="none" xml:space="preserve">2</text>
<text x="1722.1" y="1084.9" font-family="'Liberation Sans', sans-serif" font-size="23" textLength="70.9" lengthAdjust="spacingAndGlyphs" fill="#0a0a0a" stroke="none" xml:space="preserve">HOLES</text>
<circle cx="1686.6" cy="1106.7" r="7.7" stroke-width="1.8"/>
<line x1="1681.8" y1="1117.9" x2="1691.4" y2="1095.5" stroke-width="1.8"/>
<text x="1700.3" y="1115.6" font-family="'Liberation Sans', sans-serif" font-size="23" textLength="31.2" lengthAdjust="spacingAndGlyphs" fill="#0a0a0a" stroke="none" xml:space="preserve">.38</text>
<text x="1738.6" y="1115.6" font-family="'Liberation Sans', sans-serif" font-size="23" textLength="53.7" lengthAdjust="spacingAndGlyphs" fill="#0a0a0a" stroke="none" xml:space="preserve">THRU</text>
<text x="1627.3" y="1146.4" font-family="'Liberation Sans', sans-serif" font-size="23" textLength="42.4" lengthAdjust="spacingAndGlyphs" fill="#0a0a0a" stroke="none" xml:space="preserve">.ON</text>
<circle cx="1683.3" cy="1137.5" r="7.7" stroke-width="1.8"/>
<line x1="1678.5" y1="1148.7" x2="1688.1" y2="1126.3" stroke-width="1.8"/>
<text x="1696.4" y="1146.4" font-family="'Liberation Sans', sans-serif" font-size="23" textLength="45.3" lengthAdjust="spacingAndGlyphs" fill="#0a0a0a" stroke="none" xml:space="preserve">7.25</text>
<text x="1748.8" y="1146.4" font-family="'Liberation Sans', sans-serif" font-size="23" textLength="44.2" lengthAdjust="spacingAndGlyphs" fill="#0a0a0a" stroke="none" xml:space="preserve">B.C.</text>
<polygon points="1834.6,953.4 1836.6,971.2 1829.2,970.5" fill="#0a0a0a" stroke="none"/>
<path d="M1833.7 963 L1820.4 1102.8 H1796.5" stroke-width="1.8"/>
<path d="M1474.5 643.8 A12 12 0 0 0 1473.7 629.7 A38 38 0 0 1 1527.2 576.2 A12 12 0 0 0 1541.3 577" stroke-width="2.5"/>
<circle cx="1494.5" cy="597" r="12.6" stroke-width="1.9"/>
<line x1="1486.7" y1="604.8" x2="1480.7" y2="610.8" stroke-width="1.6"/>
<line x1="1502.3" y1="589.2" x2="1508.3" y2="583.2" stroke-width="1.6"/>
<line x1="1489.5" y1="601.9" x2="1499.4" y2="592" stroke-width="1.6"/>
<path d="M1855.3 891 A12 12 0 0 0 1856.1 905.1 A38 38 0 0 1 1802.6 958.6 A12 12 0 0 0 1788.5 957.8" stroke-width="2.5"/>
<circle cx="1835.3" cy="937.8" r="12.6" stroke-width="1.9"/>
<line x1="1843.1" y1="930" x2="1849.1" y2="924" stroke-width="1.6"/>
<line x1="1827.5" y1="945.6" x2="1821.5" y2="951.6" stroke-width="1.6"/>
<line x1="1840.3" y1="932.9" x2="1830.4" y2="942.8" stroke-width="1.6"/>
<path d="M1541.3 577 A227 227 0 0 1 1855.3 891" stroke-width="2.5"/>
<path d="M1788.5 957.8 A227 227 0 0 1 1474.5 643.8" stroke-width="2.5"/>
<circle cx="1664.9" cy="767.4" r="212" stroke-width="2.4"/>
<path d="M1686.8 586.4 A182.3 182.3 0 0 1 1767.9 617 Q1773.6 621 1777.8 615.4 L1780.3 612 Q1784.5 606.4 1778.8 602.3 A200.6 200.6 0 0 0 1688.3 568.2 Q1681.3 567.5 1680.8 574.5 L1680.4 578.7 Q1679.8 585.7 1686.8 586.4 Z" stroke-width="3"/>
<line x1="1687.2" y1="586" x2="1689.2" y2="569.3" stroke-width="1.7"/>
<line x1="1767.9" y1="616.4" x2="1777.4" y2="602.5" stroke-width="1.7"/>
<path d="M1688 579.4 A189.4 189.4 0 0 1 1771.6 610.9" stroke-width="2" stroke-dasharray="9 4.5"/>
<path d="M1561.9 617 A182.3 182.3 0 0 1 1643 586.4 Q1650 585.7 1649.4 578.7 L1649 574.5 Q1648.5 567.5 1641.5 568.2 A200.6 200.6 0 0 0 1551 602.3 Q1545.3 606.4 1549.5 612 L1552 615.4 Q1556.2 621 1561.9 617 Z" stroke-width="3"/>
<line x1="1561.9" y1="616.4" x2="1552.4" y2="602.5" stroke-width="1.7"/>
<line x1="1642.6" y1="586" x2="1640.6" y2="569.3" stroke-width="1.7"/>
<path d="M1558.2 610.9 A189.4 189.4 0 0 1 1641.8 579.4" stroke-width="2" stroke-dasharray="9 4.5"/>
<path d="M1836.4 705.6 A182.3 182.3 0 0 1 1816.4 868.8 Q1812.4 874.6 1818 878.7 L1821.5 881.2 Q1827.2 885.3 1831.2 879.6 A200.6 200.6 0 0 0 1853.4 698.8 Q1850.9 692.3 1844.4 694.9 L1840.4 696.5 Q1833.9 699.1 1836.4 705.6 Z" stroke-width="3"/>
<line x1="1837" y1="705.8" x2="1852.8" y2="700.1" stroke-width="1.7"/>
<line x1="1817" y1="868.8" x2="1831" y2="878.1" stroke-width="1.7"/>
<path d="M1843.2 703.6 A189.4 189.4 0 0 1 1822.5 872.5" stroke-width="2" stroke-dasharray="9 4.5"/>
<path d="M1513.4 868.8 A182.3 182.3 0 0 1 1493.4 705.6 Q1495.9 699.1 1489.4 696.5 L1485.4 694.9 Q1478.9 692.3 1476.4 698.8 A200.6 200.6 0 0 0 1498.6 879.6 Q1502.6 885.3 1508.3 881.2 L1511.8 878.7 Q1517.4 874.6 1513.4 868.8 Z" stroke-width="3"/>
<line x1="1512.8" y1="868.8" x2="1498.8" y2="878.1" stroke-width="1.7"/>
<line x1="1492.8" y1="705.8" x2="1477" y2="700.1" stroke-width="1.7"/>
<path d="M1507.3 872.5 A189.4 189.4 0 0 1 1486.6 703.6" stroke-width="2" stroke-dasharray="9 4.5"/>
<path d="M1767.4 918.2 A182.3 182.3 0 0 1 1700.9 946.1 Q1694 947.4 1695.2 954.3 L1695.9 958.5 Q1697 965.4 1703.9 964.2 A200.6 200.6 0 0 0 1778.2 932.9 Q1783.9 928.9 1779.8 923.2 L1777.2 919.8 Q1773.1 914.1 1767.4 918.2 Z" stroke-width="3"/>
<line x1="1767.4" y1="918.8" x2="1776.8" y2="932.7" stroke-width="1.7"/>
<line x1="1701.3" y1="946.5" x2="1704.7" y2="963" stroke-width="1.7"/>
<path d="M1771.1 924.2 A189.4 189.4 0 0 1 1702.7 953" stroke-width="2" stroke-dasharray="9 4.5"/>
<path d="M1628.9 946.1 A182.3 182.3 0 0 1 1562.4 918.2 Q1556.7 914.1 1552.6 919.8 L1550 923.2 Q1545.9 928.9 1551.6 932.9 A200.6 200.6 0 0 0 1625.9 964.2 Q1632.8 965.4 1633.9 958.5 L1634.6 954.3 Q1635.8 947.4 1628.9 946.1 Z" stroke-width="3"/>
<line x1="1628.5" y1="946.5" x2="1625.1" y2="963" stroke-width="1.7"/>
<line x1="1562.4" y1="918.8" x2="1553" y2="932.7" stroke-width="1.7"/>
<path d="M1627.1 953 A189.4 189.4 0 0 1 1558.7 924.2" stroke-width="2" stroke-dasharray="9 4.5"/>
<path d="M1795.8 611.4 Q1798.5 615.3 1796.5 623.3 L1800.1 630.8 L1801 634.6" stroke-width="3.1"/>
<path d="M1785.9 607.9 L1792 613.8 Q1792.1 620.1 1790.6 624.4 L1794.5 629.9" stroke-width="1.6"/>
<path d="M1777.8 615.3 A189.4 189.4 0 0 1 1788.7 624" stroke-width="1.5" stroke-dasharray="5 3"/>
<path d="M1534 611.4 Q1531.3 615.3 1533.3 623.3 L1529.7 630.8 L1528.8 634.6" stroke-width="3.1"/>
<path d="M1543.9 607.9 L1537.8 613.8 Q1537.7 620.1 1539.2 624.4 L1535.3 629.9" stroke-width="1.6"/>
<path d="M1552 615.3 A189.4 189.4 0 0 0 1541.1 624" stroke-width="1.5" stroke-dasharray="5 3"/>
<path d="M1820.9 898.3 Q1817 901 1809 899 L1801.5 902.6 L1797.7 903.5" stroke-width="3.1"/>
<path d="M1825.6 886.8 L1818.5 894.5 Q1812.2 894.6 1807.9 893.1 L1802.4 897" stroke-width="1.6"/>
<path d="M1818.1 878.7 A189.4 189.4 0 0 1 1808.3 891.2" stroke-width="1.5" stroke-dasharray="5 3"/>
<path d="M1795.8 923.4 Q1798.5 919.5 1796.5 911.5 L1800.1 904 L1801 900.2" stroke-width="3.1"/>
<path d="M1785.4 927.3 L1792 921 Q1792.1 914.7 1790.6 910.4 L1794.5 904.9" stroke-width="1.6"/>
<path d="M1777.3 919.8 A189.4 189.4 0 0 0 1788.7 910.8" stroke-width="1.5" stroke-dasharray="5 3"/>
<path d="M1508.9 898.3 Q1512.8 901 1520.8 899 L1528.3 902.6 L1532.1 903.5" stroke-width="3.1"/>
<path d="M1504.2 886.8 L1511.3 894.5 Q1517.6 894.6 1521.9 893.1 L1527.4 897" stroke-width="1.6"/>
<path d="M1511.7 878.7 A189.4 189.4 0 0 0 1521.5 891.2" stroke-width="1.5" stroke-dasharray="5 3"/>
<path d="M1534 923.4 Q1531.3 919.5 1533.3 911.5 L1529.7 904 L1528.8 900.2" stroke-width="3.1"/>
<path d="M1544.4 927.3 L1537.8 921 Q1537.7 914.7 1539.2 910.4 L1535.3 904.9" stroke-width="1.6"/>
<path d="M1552.5 919.8 A189.4 189.4 0 0 1 1541.1 910.8" stroke-width="1.5" stroke-dasharray="5 3"/>
<path d="M1801.7 640.5 L1798.1 654 L1784.6 657.6 L1774.7 647.7 L1778.3 634.2 L1791.8 630.6 Z" stroke-width="2.7" fill="#ffffff"/>
<circle cx="1788.2" cy="644.1" r="10.2" stroke-width="3"/>
<circle cx="1788.2" cy="644.1" r="4.6" stroke-width="3.2"/>
<line x1="1784.8" y1="647.5" x2="1791.6" y2="640.7" stroke="#ffffff" stroke-width="1.5"/>
<path d="M1791.8 904.2 L1778.3 900.6 L1774.7 887.1 L1784.6 877.2 L1798.1 880.8 L1801.7 894.3 Z" stroke-width="2.7" fill="#ffffff"/>
<circle cx="1788.2" cy="890.7" r="10.2" stroke-width="3"/>
<circle cx="1788.2" cy="890.7" r="4.6" stroke-width="3.2"/>
<line x1="1784.8" y1="887.3" x2="1791.6" y2="894.1" stroke="#ffffff" stroke-width="1.5"/>
<path d="M1528.1 894.3 L1531.7 880.8 L1545.2 877.2 L1555.1 887.1 L1551.5 900.6 L1538 904.2 Z" stroke-width="2.7" fill="#ffffff"/>
<circle cx="1541.6" cy="890.7" r="10.2" stroke-width="3"/>
<circle cx="1541.6" cy="890.7" r="4.6" stroke-width="3.2"/>
<line x1="1538.2" y1="894.1" x2="1545" y2="887.3" stroke="#ffffff" stroke-width="1.5"/>
<path d="M1538 630.6 L1551.5 634.2 L1555.1 647.7 L1545.2 657.6 L1531.7 654 L1528.1 640.5 Z" stroke-width="2.7" fill="#ffffff"/>
<circle cx="1541.6" cy="644.1" r="10.2" stroke-width="3"/>
<circle cx="1541.6" cy="644.1" r="4.6" stroke-width="3.2"/>
<line x1="1538.2" y1="640.7" x2="1545" y2="647.5" stroke="#ffffff" stroke-width="1.5"/>
<path d="M1522.8 652.2 L1539.6 661.9 Q1544.4 664.6 1541.8 669.6 L1521.9 708.6 Q1518.8 714.6 1512.7 710.4 L1488.2 693.6" stroke-width="3.3"/>
<path d="M1521 655.5 L1536.3 664.1 Q1540.7 666.5 1538.5 670.9 L1521.2 705.1 Q1518.5 710.4 1512.7 706.4 L1489.4 690.2" stroke-width="1.7"/>
<circle cx="1506.5" cy="676.5" r="13.2" stroke-width="2.2"/>
<circle cx="1506.5" cy="676.5" r="10.2" stroke-width="1.8"/>
<circle cx="1506.5" cy="676.5" r="5.8" stroke-width="2.4"/>
<line x1="1511" y1="658.3" x2="1506.1" y2="664.9" stroke-width="1.5"/>
<line x1="1497.5" y1="680.9" x2="1492.6" y2="690.4" stroke-width="1.5"/>
<path d="M1523.7 639.6 A7.4 7.4 0 1 0 1521.5 650.9" stroke-width="2.4"/>
<path d="M1520.1 640.8 A4.2 4.2 0 1 0 1518.7 648.5" stroke-width="2"/>
<path d="M1529.4 636 L1523.8 640" stroke-width="3"/>
<path d="M1807 652.2 L1790.2 661.9 Q1785.4 664.6 1788 669.6 L1807.9 708.6 Q1811 714.6 1817.1 710.4 L1841.6 693.6" stroke-width="3.3"/>
<path d="M1808.8 655.5 L1793.5 664.1 Q1789.1 666.5 1791.3 670.9 L1808.6 705.1 Q1811.3 710.4 1817.1 706.4 L1840.4 690.2" stroke-width="1.7"/>
<circle cx="1823.3" cy="676.5" r="9.5" stroke-width="3"/>
<circle cx="1823.3" cy="676.5" r="5" stroke-width="1.8"/>
<line x1="1818.8" y1="658.3" x2="1823.7" y2="664.9" stroke-width="1.5"/>
<line x1="1832.3" y1="680.9" x2="1837.2" y2="690.4" stroke-width="1.5"/>
<path d="M1806.1 639.6 A7.4 7.4 0 1 1 1808.3 650.9" stroke-width="2.4"/>
<path d="M1809.7 640.8 A4.2 4.2 0 1 1 1811.1 648.5" stroke-width="2"/>
<path d="M1800.4 636 L1806 640" stroke-width="3"/>
<path d="M1534 611.4 A203.6 203.6 0 0 1 1795.8 611.4" stroke-width="2.5"/>
<path d="M1851.6 686.2 A203.6 203.6 0 0 1 1820.9 898.3" stroke-width="2.5"/>
<path d="M1478.2 686.2 A203.6 203.6 0 0 0 1508.9 898.3" stroke-width="2.5"/>
<path d="M1795.8 923.4 A203.6 203.6 0 0 1 1696.8 968.5 Q1690.6 967.8 1689.9 959 V931.5 Q1689.9 926.0 1685 926.0 H1644.8 Q1639.9 926.0 1639.9 931.5 V959 Q1639.2 967.8 1633 968.5 A203.6 203.6 0 0 1 1534 923.4" stroke-width="2.5"/>
<path d="M1633.9 947.5 V927.4 Q1633.9 920.3 1641 920.3 H1688.8 Q1695.9 920.3 1695.9 927.4 V947.5" stroke-width="3.5"/>
<circle cx="1664.9" cy="950.4" r="9.6" stroke-width="3"/>
<circle cx="1664.9" cy="950.4" r="4.8" stroke-width="2"/>
<path d="M1692.8 954.1 A188.8 188.8 0 0 1 1676.8 955.8" stroke-width="1.6" stroke-dasharray="6 3"/>
<path d="M1653 955.8 A188.8 188.8 0 0 1 1637 954.1" stroke-width="1.6" stroke-dasharray="6 3"/>
<rect x="1652.1" y="571" width="4" height="145" fill="#a8a8a8" stroke="none"/>
<rect x="1677.5" y="571" width="4.7" height="145" fill="#a8a8a8" stroke="none"/>
<line x1="1647.7" y1="716" x2="1647.7" y2="569.6" stroke-width="2.8"/>
<line x1="1682.2" y1="716" x2="1682.2" y2="569.6" stroke-width="2.8"/>
<line x1="1652.1" y1="716.6" x2="1652.1" y2="569" stroke-width="2.2"/>
<line x1="1656.1" y1="716.6" x2="1656.1" y2="569" stroke-width="2.2"/>
<line x1="1673.5" y1="716.6" x2="1673.5" y2="569" stroke-width="2.3"/>
<line x1="1677.5" y1="716.6" x2="1677.5" y2="569" stroke-width="2.6"/>
<path d="M1652.1 715.5 Q1652.7 720.0 1656.4 719.6 Q1664.9 718.0 1673.4 719.6 Q1677.1 720.0 1677.5 715.5" stroke-width="2.2"/>
<line x1="1652.1" y1="568.8" x2="1677.5" y2="568.8" stroke-width="2"/>
<path d="M1614.4 747.8 A54.2 54.2 0 0 1 1715.4 747.8" stroke-width="3"/>
<path d="M1715.4 787 A54.2 54.2 0 0 1 1614.4 787" stroke-width="3"/>
<path d="M1617.7 748.1 A51 51 0 0 1 1712.1 748.1" stroke-width="1.5"/>
<path d="M1712.1 786.7 A51 51 0 0 1 1617.7 786.7" stroke-width="1.5"/>
<circle cx="1664.9" cy="767.4" r="41.3" stroke-width="2.2"/>
<circle cx="1664.9" cy="767.4" r="23.4" stroke-width="2"/>
<circle cx="1664.9" cy="767.4" r="17.4" stroke-width="5.8"/>
<line x1="1664.9" y1="760" x2="1664.9" y2="774.8" stroke-width="1.6"/>
<line x1="1658.5" y1="763.7" x2="1671.3" y2="771.1" stroke-width="1.6"/>
<line x1="1671.3" y1="763.7" x2="1658.5" y2="771.1" stroke-width="1.6"/>
<path d="M1614.4 747.8 H1582.3 A19.6 19.6 0 0 0 1582.3 787 H1614.4" stroke-width="3.3"/>
<path d="M1610.4 752 H1582.3 A15.4 15.4 0 0 0 1582.3 782.8 H1610.4" stroke-width="1.6"/>
<path d="M1613.4 747.8 Q1608 767.4 1613.4 787" stroke-width="2"/>
<path d="M1715.4 747.8 H1747.5 A19.6 19.6 0 0 1 1747.5 787 H1715.4" stroke-width="3.3"/>
<path d="M1719.4 752 H1747.5 A15.4 15.4 0 0 1 1747.5 782.8 H1719.4" stroke-width="1.6"/>
<path d="M1716.4 747.8 Q1721.8 767.4 1716.4 787" stroke-width="2"/>
<path d="M1612.5 546.5 V526.3 A52.4 52.4 0 0 1 1717.3 526.3 V546.5" stroke-width="2.5"/>
<path d="M1629.2 543.2 V526.3 A35.7 35.7 0 0 1 1700.6 526.3 V543.2" stroke-width="2.5"/>
<line x1="1612.5" y1="526.6" x2="1629.2" y2="526.6" stroke-width="1.9"/>
<line x1="1700.6" y1="526.6" x2="1717.3" y2="526.6" stroke-width="1.9"/>
<path d="M1330.0 654.8 H1344.2 V880.2 H1330.0 Z" stroke-width="2.3"/>
<line x1="1333.8" y1="654.8" x2="1333.8" y2="880.2" stroke-width="1.8"/>
<line x1="1333.8" y1="673.6" x2="1344.2" y2="673.6" stroke-width="1.6"/>
<line x1="1333.8" y1="860.9" x2="1344.2" y2="860.9" stroke-width="1.6"/>
<path d="M1344.2 659.6 Q1400 660.6 1463.9 661.6" stroke-width="2.3"/>
<line x1="1344.2" y1="680.4" x2="1455.1" y2="680.4" stroke-width="2.3"/>
<line x1="1344.2" y1="854.6" x2="1455.4" y2="854.6" stroke-width="2.3"/>
<path d="M1344.2 875.0 Q1400 874.4 1464.0 873.2" stroke-width="2.3"/>
<path d="M1327.0 671.1 H1320.1 V688.7 H1327.0 M1320.1 679.9 H1327.0" stroke-width="1.8"/>
<path d="M1327.2 667.7 V692.1 H1330.4" stroke-width="1.6"/>
<line x1="1327.2" y1="667.7" x2="1330.4" y2="667.7" stroke-width="1.6"/>
<path d="M1327.0 846.4 H1320.1 V864 H1327.0 M1320.1 855.2 H1327.0" stroke-width="1.8"/>
<path d="M1327.2 843 V867.4 H1330.4" stroke-width="1.6"/>
<line x1="1327.2" y1="843" x2="1330.4" y2="843" stroke-width="1.6"/>
<path d="M1373.8 873.6 V865.4 L1432.4 862.6 V873.2" stroke-width="1.6" stroke-dasharray="6 3"/>
<circle cx="1403.2" cy="767.4" r="33.6" stroke-width="4.6"/>
<circle cx="1403.2" cy="717.3" r="13.8" stroke-width="2.9"/>
<circle cx="1403.2" cy="717.3" r="10.8" stroke-width="1.2"/>
<line x1="1395" y1="719.9" x2="1411.4" y2="710.7" stroke-width="1.7"/>
<line x1="1395" y1="724.1" x2="1411.4" y2="714.9" stroke-width="1.7"/>
<circle cx="1403.2" cy="818.4" r="13.8" stroke-width="2.9"/>
<circle cx="1403.2" cy="818.4" r="10.8" stroke-width="1.2"/>
<line x1="1395" y1="811.8" x2="1411.4" y2="821" stroke-width="1.7"/>
<line x1="1395" y1="816" x2="1411.4" y2="825.2" stroke-width="1.7"/>
</g>
</svg>
</body></html>
